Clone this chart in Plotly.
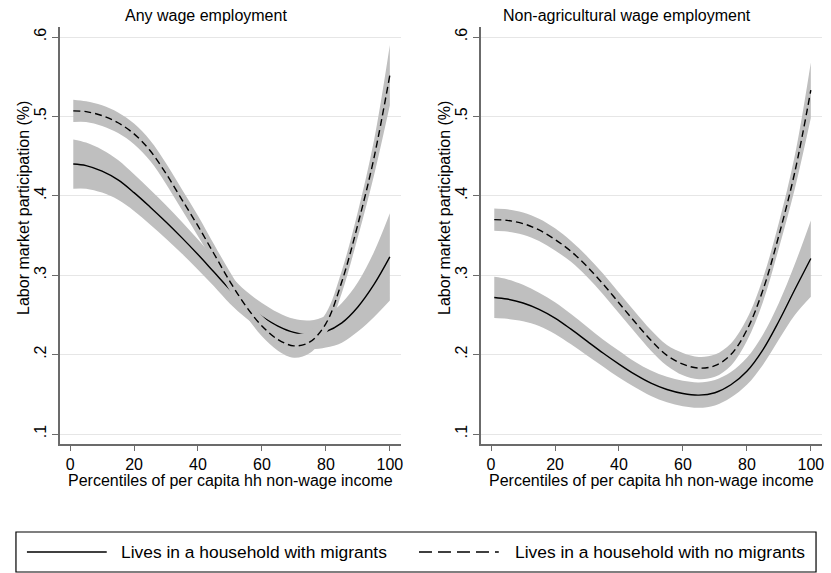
import plotly.graph_objects as go

# Percentiles of per capita household non-wage income
pct = [1, 5, 10, 15, 20, 25, 30, 35, 40, 45, 50, 55, 60, 65, 70, 75, 80, 85, 90, 95, 100]

# Any wage employment: fitted participation and 95% CI half-widths
any_mig = [0.440, 0.438, 0.431, 0.420, 0.404, 0.386, 0.367, 0.347, 0.326, 0.304, 0.282,
           0.263, 0.248, 0.236, 0.228, 0.225, 0.229, 0.240, 0.260, 0.288, 0.323]
any_mig_hw = [0.031, 0.029, 0.027, 0.025, 0.023, 0.022, 0.021, 0.020, 0.019, 0.018, 0.018,
              0.017, 0.017, 0.017, 0.017, 0.018, 0.020, 0.025, 0.031, 0.041, 0.055]
any_nomig = [0.507, 0.506, 0.501, 0.492, 0.478, 0.457, 0.428, 0.395, 0.362, 0.327, 0.292,
             0.261, 0.236, 0.219, 0.211, 0.216, 0.239, 0.292, 0.364, 0.447, 0.552]
any_nomig_hw = [0.014, 0.013, 0.013, 0.013, 0.013, 0.013, 0.013, 0.013, 0.013, 0.012, 0.012,
                0.012, 0.013, 0.014, 0.015, 0.014, 0.013, 0.014, 0.016, 0.022, 0.038]

# Non-agricultural wage employment
nonag_mig = [0.272, 0.270, 0.265, 0.257, 0.246, 0.232, 0.217, 0.202, 0.188, 0.175, 0.164,
             0.156, 0.151, 0.149, 0.152, 0.162, 0.179, 0.206, 0.242, 0.282, 0.321]
nonag_mig_hw = [0.026, 0.025, 0.023, 0.021, 0.020, 0.019, 0.018, 0.017, 0.017, 0.016, 0.016,
                0.016, 0.016, 0.016, 0.016, 0.016, 0.017, 0.019, 0.023, 0.032, 0.048]
nonag_nomig = [0.370, 0.369, 0.365, 0.357, 0.345, 0.330, 0.311, 0.289, 0.265, 0.241, 0.218,
               0.199, 0.188, 0.183, 0.186, 0.200, 0.231, 0.281, 0.350, 0.430, 0.533]
nonag_nomig_hw = [0.014, 0.014, 0.014, 0.014, 0.014, 0.013, 0.013, 0.013, 0.013, 0.013, 0.013,
                  0.013, 0.014, 0.014, 0.014, 0.014, 0.014, 0.015, 0.016, 0.021, 0.035]

panel_titles = ["Any wage employment", "Non-agricultural wage employment"]
series_names = ["Lives in a household with migrants", "Lives in a household with no migrants"]
y_ticks = [0.1, 0.2, 0.3, 0.4, 0.5, 0.6]
y_ticktext = [".1", ".2", ".3", ".4", ".5", ".6"]
x_ticks = [0, 20, 40, 60, 80, 100]

W, H = 831, 573
FONT = "Arial, Liberation Sans, sans-serif"
BAND = "#bfbfbf"
AXIS = "#6b6b6b"
DASH = "7px,4px"
XR = [-3.2, 103.5]
YR = [0.0874, 0.6126]

fig = go.Figure()


def add_series(mean, hw, xa, ya, dash, name):
    lo = [m - h for m, h in zip(mean, hw)]
    hi = [m + h for m, h in zip(mean, hw)]
    fig.add_trace(go.Scatter(x=pct, y=lo, xaxis=xa, yaxis=ya, mode="lines",
                             line=dict(width=0, shape="spline", color=BAND),
                             showlegend=False, hoverinfo="skip"))
    fig.add_trace(go.Scatter(x=pct, y=hi, xaxis=xa, yaxis=ya, mode="lines",
                             line=dict(width=0, shape="spline", color=BAND),
                             fill="tonexty", fillcolor=BAND,
                             showlegend=False, hoverinfo="skip"))
    fig.add_trace(go.Scatter(x=pct, y=mean, xaxis=xa, yaxis=ya, mode="lines", name=name,
                             line=dict(color="black", width=1.4, dash=dash, shape="spline"),
                             showlegend=False))


# the no-migrant series sits on an overlaying layer so its band covers the other line
add_series(any_mig, any_mig_hw, "x", "y", "solid", series_names[0])
add_series(any_nomig, any_nomig_hw, "x3", "y3", DASH, series_names[1])
add_series(nonag_mig, nonag_mig_hw, "x2", "y2", "solid", series_names[0])
add_series(nonag_nomig, nonag_nomig_hw, "x4", "y4", DASH, series_names[1])

xaxis_style = dict(range=XR, tickmode="array", tickvals=x_ticks,
                   ticks="outside", ticklen=5, tickwidth=1.2, tickcolor=AXIS,
                   showline=True, linecolor=AXIS, linewidth=1.5,
                   showgrid=False, zeroline=False,
                   tickfont=dict(family=FONT, size=16, color="black"))
yaxis_style = dict(range=YR, tickmode="array", tickvals=y_ticks,
                   ticktext=y_ticktext, tickangle=-90,
                   ticks="outside", ticklen=6, tickwidth=1.2, tickcolor=AXIS,
                   showline=True, linecolor=AXIS, linewidth=1.5,
                   showgrid=True, gridcolor="#e6e6e6", gridwidth=1, zeroline=False,
                   tickfont=dict(family=FONT, size=16, color="black"))
hidden_x = dict(range=XR, visible=False, showgrid=False, zeroline=False)
hidden_y = dict(range=YR, visible=False, showgrid=False, zeroline=False)

ydom = [1 - 444 / H, 1 - 27 / H]
fig.update_layout(
    width=W, height=H,
    margin=dict(l=0, r=0, t=0, b=0),
    paper_bgcolor="white", plot_bgcolor="white",
    showlegend=False,
    xaxis=dict(domain=[60 / W, 402 / W], anchor="y", **xaxis_style),
    yaxis=dict(domain=ydom, anchor="x", **yaxis_style),
    xaxis2=dict(domain=[482 / W, 824 / W], anchor="y2", **xaxis_style),
    yaxis2=dict(domain=ydom, anchor="x2", **yaxis_style),
    xaxis3=dict(overlaying="x", anchor="y3", **hidden_x),
    yaxis3=dict(overlaying="y", anchor="x3", **hidden_y),
    xaxis4=dict(overlaying="x2", anchor="y4", **hidden_x),
    yaxis4=dict(overlaying="y2", anchor="x4", **hidden_y),
)

txt = dict(family=FONT, size=16, color="black")
ann = []
# panel titles
for cx, t in zip([206, 629], panel_titles):
    ann.append(dict(text=t, x=cx / W, y=1 - 16 / H, xref="paper", yref="paper",
                    xanchor="center", yanchor="middle", showarrow=False, font=txt))
# axis titles
for cx in [231, 653]:
    ann.append(dict(text="Percentiles of per capita hh non-wage income", x=cx / W,
                    y=1 - 480 / H, xref="paper", yref="paper", xanchor="center",
                    yanchor="middle", showarrow=False, font=txt))
for cx in [23, 445]:
    ann.append(dict(text="Labor market participation (%)", x=cx / W, y=1 - 208 / H,
                    xref="paper", yref="paper", xanchor="center", yanchor="middle",
                    textangle=-90, showarrow=False, font=txt))

# legend box below the panels
leg_y = 1 - 552 / H
legend_font = dict(family=FONT, size=17.4, color="black")
shapes = [
    dict(type="rect", xref="paper", yref="paper", x0=16 / W, x1=818 / W,
         y0=1 - 572 / H, y1=1 - 532 / H, line=dict(color="black", width=1.2),
         fillcolor="white", layer="below"),
    dict(type="line", xref="paper", yref="paper", x0=27 / W, x1=107 / W,
         y0=leg_y, y1=leg_y, line=dict(color="black", width=1.4)),
    dict(type="line", xref="paper", yref="paper", x0=420 / W, x1=500 / W,
         y0=leg_y, y1=leg_y, line=dict(color="black", width=1.4, dash="13px,6px")),
]
for lx, t in zip([119, 514], series_names):
    ann.append(dict(text=t, x=lx / W, y=leg_y, xref="paper", yref="paper",
                    xanchor="left", yanchor="middle", showarrow=False, font=legend_font))

fig.update_layout(annotations=ann, shapes=shapes)
fig.write_html("out.html")
